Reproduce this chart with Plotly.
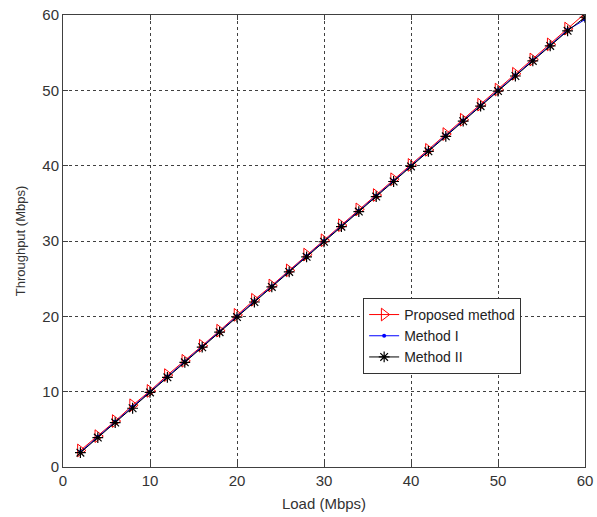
import plotly.graph_objects as go

load = [2, 4, 6, 8, 10, 12, 14, 16, 18, 20, 22, 24, 26, 28, 30,
        32, 34, 36, 38, 40, 42, 44, 46, 48, 50, 52, 54, 56, 58, 60]
proposed = [2.2, 4.1, 6.1, 8.2, 10.1, 12.2, 14.1, 16.1, 18.1, 20.2, 22.2, 24.1, 26.1, 28.2, 30.1,
            32.1, 34.2, 36.1, 38.2, 40.1, 42.1, 44.2, 46.1, 48.1, 50.1, 52.2, 54.1, 56.1, 58.2, 60.2]
method1 = [2.0, 4.0, 6.0, 8.0, 10.0, 12.0, 14.0, 16.0, 18.0, 20.0, 22.0, 24.0, 26.0, 28.0, 30.0,
           32.0, 34.0, 36.0, 38.0, 40.0, 42.0, 44.0, 46.0, 48.0, 50.0, 52.0, 54.0, 56.0, 58.0, 59.4]
method2 = [1.9, 3.9, 5.9, 7.8, 9.9, 11.9, 13.9, 15.9, 17.9, 19.9, 21.9, 23.9, 25.9, 27.9, 29.9,
           31.9, 33.9, 35.9, 37.9, 39.9, 41.9, 43.9, 45.9, 47.9, 49.9, 51.9, 53.9, 55.9, 57.9, 59.7]
ticks = [0, 10, 20, 30, 40, 50, 60]

fig = go.Figure()
fig.add_trace(go.Scatter(x=load, y=proposed, name="Proposed method", mode="lines+markers",
                         line=dict(color="red", width=1),
                         marker=dict(symbol="triangle-right-open", size=11, color="red", line=dict(width=1))))
fig.add_trace(go.Scatter(x=load, y=method1, name="Method I", mode="lines+markers",
                         line=dict(color="blue", width=1),
                         marker=dict(symbol="circle", size=4, color="blue")))
fig.add_trace(go.Scatter(x=load, y=method2, name="Method II", mode="lines+markers",
                         line=dict(color="black", width=1),
                         marker=dict(symbol="asterisk-open", size=9, color="black", line=dict(width=1.2, color="black"))))

axis_common = dict(showline=True, linecolor="#404040", linewidth=1, mirror="ticks",
                   ticks="inside", ticklen=5, tickcolor="#404040", automargin=False,
                   ticklabeloverflow="allow",
                   showgrid=True, gridcolor="#404040", gridwidth=1, griddash="3px,3px",
                   zeroline=False, tickfont=dict(size=15, color="#333"))

fig.update_xaxes(range=[0, 60], tickvals=ticks,
                 title=dict(text="Load (Mbps)", font=dict(size=15, color="#333"), standoff=10), **axis_common)
fig.update_yaxes(range=[0, 60], tickvals=ticks,
                 title=dict(text="Throughput (Mbps)", font=dict(size=13, color="#333"), standoff=13), **axis_common)

fig.update_layout(
    width=597, height=517,
    margin=dict(l=63, r=12, t=15, b=50, autoexpand=False),
    paper_bgcolor="white", plot_bgcolor="white",
    font=dict(family="Liberation Sans, Arial, sans-serif", size=14, color="#333"),
    showlegend=True,
    legend=dict(x=0.575, y=0.374, xanchor="left", yanchor="top",
                bgcolor="white", bordercolor="#333", borderwidth=1,
                font=dict(size=14, color="#222"), tracegroupgap=0, itemsizing="trace",
                entrywidth=128, entrywidthmode="pixels"),
)

fig.write_html("out.html", config={"displayModeBar": False},
               post_script="document.body.style.margin='0';")
